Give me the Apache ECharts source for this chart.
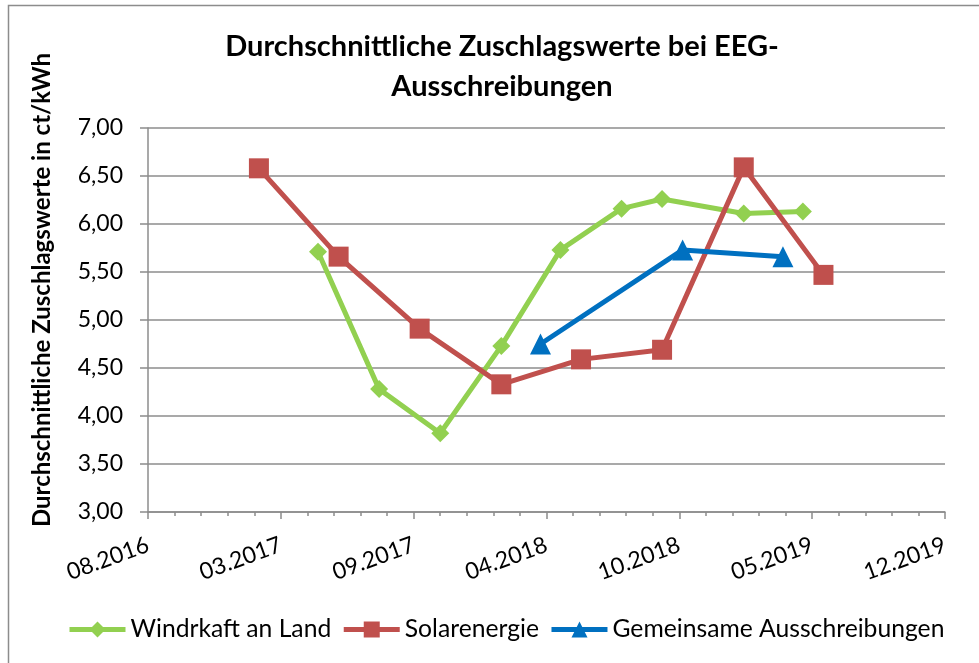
<!DOCTYPE html>
<html>
<head>
<meta charset="utf-8">
<script src="https://cdn.jsdelivr.net/npm/echarts@6/dist/echarts.min.js"></script>
<style>
html,body{margin:0;padding:0;background:#fff;}
#c{width:979px;height:663px;}
</style>
</head>
<body>
<div id="c"></div>
<script>
// ---- data ----
const titleText = 'Durchschnittliche Zuschlagswerte bei EEG-\nAusschreibungen';
const yAxisTitle = 'Durchschnittliche Zuschlagswerte in ct/kWh';
const seriesNames = ['Windrkaft an Land', 'Solarenergie', 'Gemeinsame Ausschreibungen'];

const windDates = ['2017-05-01','2017-08-01','2017-11-01','2018-02-01','2018-05-01','2018-08-01','2018-10-01','2019-02-01','2019-05-01'];
const windValues = [5.71, 4.28, 3.82, 4.73, 5.73, 6.16, 6.26, 6.11, 6.13];

const solarDates = ['2017-02-01','2017-06-01','2017-10-01','2018-02-01','2018-06-01','2018-10-01','2019-02-01','2019-06-01'];
const solarValues = [6.58, 5.66, 4.91, 4.33, 4.59, 4.69, 6.59, 5.47];

const jointDates = ['2018-04-01','2018-11-01','2019-04-01'];
const jointValues = [4.75, 5.73, 5.66];

// x axis: Excel date serials, 08.2016 ... 12.2019 every 200 days
const xMin = 42600, xMax = 43800, xInterval = 200;
const yMin = 3, yMax = 7, yInterval = 0.5;

// ---- helpers ----
const EXCEL_EPOCH = Date.UTC(1899, 11, 30);
function toSerial(s) {
  const p = s.split('-').map(Number);
  return (Date.UTC(p[0], p[1] - 1, p[2]) - EXCEL_EPOCH) / 86400000;
}
function serialLabel(v) {
  const d = new Date(EXCEL_EPOCH + v * 86400000);
  const m = d.getUTCMonth() + 1;
  return (m < 10 ? '0' : '') + m + '.' + d.getUTCFullYear();
}
function pairs(dates, values) {
  return dates.map((d, i) => [toSerial(d), values[i]]);
}

const FONT = 'Lato';
const colors = ['#92D050', '#C0504D', '#0070C0'];

const chart = echarts.init(document.getElementById('c'), null, {renderer: 'canvas'});
chart.setOption({
  animation: false,
  backgroundColor: '#fff',
  textStyle: {fontFamily: FONT},
  graphic: [{
    type: 'rect', silent: true, z: -1,
    shape: {x: 8.5, y: 5.5, width: 1000, height: 700},
    style: {fill: 'none', stroke: '#8c8c8c', lineWidth: 1.5}
  }],
  title: {
    text: titleText,
    left: 497, top: 22, textAlign: 'center',
    textStyle: {fontFamily: FONT, fontWeight: 'bold', fontSize: 29, color: '#000', lineHeight: 40}
  },
  legend: {
    top: 612, left: 62,
    itemWidth: 56, itemHeight: 20, itemGap: 10,
    lineStyle: {width: 5},
    textStyle: {fontFamily: FONT, fontSize: 24.7, color: '#000'},
    data: seriesNames
  },
  grid: {left: 148, right: 34, top: 128, bottom: 151, containLabel: false},
  xAxis: {
    type: 'value', min: xMin, max: xMax, interval: xInterval,
    axisLine: {show: true, lineStyle: {color: '#8c8c8c', width: 1.5}},
    axisTick: {show: true, length: 7, lineStyle: {color: '#8c8c8c', width: 1.5}},
    minorTick: {show: true, splitNumber: 5, length: 4, lineStyle: {color: '#8c8c8c', width: 1.5}},
    splitLine: {show: false},
    axisLabel: {
      rotate: 20, margin: 32, fontFamily: FONT, fontSize: 23, color: '#000',
      formatter: serialLabel
    }
  },
  yAxis: {
    type: 'value', min: yMin, max: yMax, interval: yInterval,
    name: yAxisTitle, nameLocation: 'middle', nameGap: 94, nameRotate: 90,
    nameTextStyle: {fontFamily: FONT, fontWeight: 'bold', fontSize: 24, color: '#000', padding: [0, 0, 0, 60]},
    axisLine: {show: true, lineStyle: {color: '#8c8c8c', width: 1.5}},
    axisTick: {show: true, length: 8, lineStyle: {color: '#8c8c8c', width: 1.5}},
    splitLine: {show: true, lineStyle: {color: '#8c8c8c', width: 1.5}},
    axisLabel: {
      margin: 25, fontFamily: FONT, fontSize: 23, color: '#000',
      formatter: v => v.toFixed(2).replace('.', ',')
    }
  },
  series: [
    {
      name: seriesNames[0], type: 'line', data: pairs(windDates, windValues),
      symbol: 'diamond', symbolSize: 18,
      lineStyle: {color: colors[0], width: 5},
      itemStyle: {color: colors[0]}
    },
    {
      name: seriesNames[1], type: 'line', data: pairs(solarDates, solarValues),
      symbol: 'rect', symbolSize: 20,
      lineStyle: {color: colors[1], width: 5},
      itemStyle: {color: colors[1]}
    },
    {
      name: seriesNames[2], type: 'line', data: pairs(jointDates, jointValues),
      symbol: 'triangle', symbolSize: 21,
      lineStyle: {color: colors[2], width: 5},
      itemStyle: {color: colors[2]}
    }
  ]
});
</script>
</body>
</html>
